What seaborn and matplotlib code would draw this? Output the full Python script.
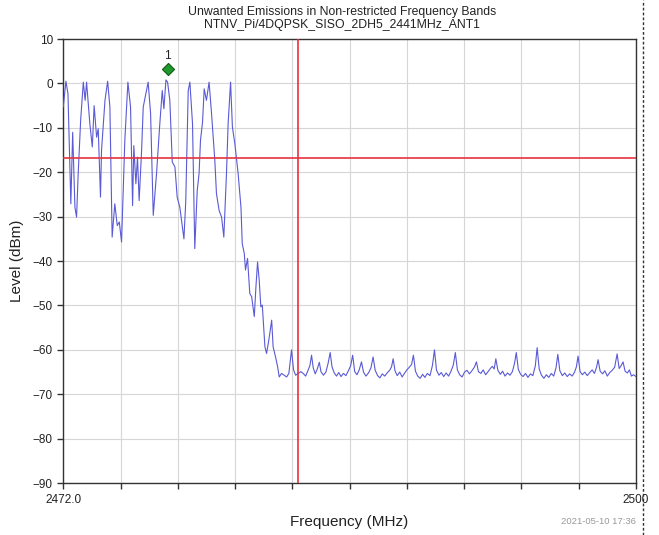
import numpy as np
import matplotlib
matplotlib.use("Agg")
import matplotlib.pyplot as plt
import seaborn as sns
from matplotlib.lines import Line2D

freq_mhz = [
    2472.00, 2472.13, 2472.23, 2472.37, 2472.46, 2472.57, 2472.65, 2472.73, 2472.85, 2472.98,
    2473.07, 2473.14, 2473.30, 2473.42, 2473.51, 2473.63, 2473.71, 2473.82, 2473.87, 2474.04,
    2474.17, 2474.28, 2474.39, 2474.52, 2474.64, 2474.74, 2474.85, 2475.01, 2475.16, 2475.29,
    2475.39, 2475.45, 2475.55, 2475.63, 2475.71, 2475.83, 2475.91, 2476.15, 2476.27, 2476.40,
    2476.56, 2476.72, 2476.84, 2476.92, 2477.02, 2477.10, 2477.21, 2477.33, 2477.46, 2477.57,
    2477.70, 2477.90, 2477.99, 2478.11, 2478.19, 2478.32, 2478.43, 2478.55, 2478.64, 2478.71,
    2478.81, 2478.89, 2479.00, 2479.13, 2479.25, 2479.41, 2479.49, 2479.62, 2479.74, 2479.85,
    2479.98, 2480.06, 2480.18, 2480.27, 2480.39, 2480.55, 2480.69, 2480.75, 2480.85, 2480.91,
    2481.01, 2481.12, 2481.21, 2481.34, 2481.42, 2481.50, 2481.58, 2481.66, 2481.73, 2481.86,
    2481.94, 2482.05, 2482.19, 2482.26, 2482.38, 2482.48, 2482.56, 2482.67, 2482.80, 2482.92,
    2483.03, 2483.16, 2483.26, 2483.36, 2483.49, 2483.62, 2483.73, 2483.85, 2483.97, 2484.06,
    2484.14, 2484.22, 2484.32, 2484.42, 2484.52, 2484.60, 2484.72, 2484.84, 2484.95, 2485.05,
    2485.14, 2485.25, 2485.36, 2485.47, 2485.58, 2485.70, 2485.82, 2485.94, 2486.05, 2486.15,
    2486.25, 2486.36, 2486.47, 2486.58, 2486.68, 2486.80, 2486.92, 2487.04, 2487.15, 2487.25,
    2487.37, 2487.48, 2487.60, 2487.72, 2487.85, 2487.96, 2488.05, 2488.13, 2488.22, 2488.33,
    2488.45, 2488.57, 2488.68, 2488.80, 2488.92, 2489.03, 2489.12, 2489.22, 2489.33, 2489.45,
    2489.57, 2489.68, 2489.80, 2489.93, 2490.05, 2490.15, 2490.25, 2490.37, 2490.48, 2490.60,
    2490.72, 2490.84, 2490.96, 2491.07, 2491.17, 2491.27, 2491.38, 2491.50, 2491.62, 2491.74,
    2491.86, 2491.98, 2492.10, 2492.20, 2492.30, 2492.42, 2492.53, 2492.65, 2492.77, 2492.88,
    2492.98, 2493.07, 2493.15, 2493.25, 2493.37, 2493.48, 2493.60, 2493.72, 2493.84, 2493.96,
    2494.06, 2494.15, 2494.25, 2494.36, 2494.48, 2494.60, 2494.72, 2494.84, 2494.96, 2495.08,
    2495.17, 2495.27, 2495.38, 2495.50, 2495.62, 2495.74, 2495.86, 2495.98, 2496.09, 2496.18,
    2496.28, 2496.40, 2496.52, 2496.64, 2496.76, 2496.88, 2497.00, 2497.09, 2497.17, 2497.27,
    2497.38, 2497.50, 2497.62, 2497.74, 2497.86, 2497.97, 2498.07, 2498.15, 2498.25, 2498.37,
    2498.48, 2498.60, 2498.72, 2498.84, 2498.96, 2499.08, 2499.18, 2499.27, 2499.37, 2499.47,
    2499.58, 2499.68, 2499.78, 2499.88, 2500.00,
]
level_dbm = [
    -5.3, 0.5, -2.3, -27.1, -11.0, -27.9, -30.1, -20.3, -8.3, 0.3,
    -3.8, 0.3, -9.1, -14.3, -5.0, -12.1, -10.2, -25.6, -15.1, -3.8,
    0.5, -5.3, -34.6, -27.1, -32.0, -31.2, -35.7, -12.8, 0.3, -5.3,
    -27.5, -14.0, -22.6, -16.6, -26.4, -15.1, -5.3, 0.3, -6.8, -29.7,
    -20.3, -9.1, -1.6, -5.7, 0.8, 0.3, -3.8, -17.7, -18.8, -25.6,
    -27.9, -35.0, -26.4, -1.6, 0.3, -9.1, -37.2, -24.1, -20.3, -12.8,
    -8.7, -1.2, -3.8, 0.3, -6.8, -17.3, -24.8, -28.6, -30.1, -34.6,
    -20.3, -9.1, 0.3, -9.8, -13.6, -20.3, -28.0, -36.0, -38.3, -42.0,
    -39.4, -47.3, -48.0, -52.5, -45.8, -40.2, -44.3, -50.3, -49.9, -59.3,
    -60.8, -57.8, -53.3, -59.3, -61.6, -63.8, -66.1, -65.3, -65.7, -66.1,
    -65.3, -60.0, -64.5, -65.7, -65.3, -64.9, -65.3, -65.9, -64.6, -63.5,
    -61.2, -64.0, -65.4, -64.3, -62.8, -64.9, -65.7, -65.0, -63.0, -60.6,
    -63.8, -65.2, -65.9, -65.1, -66.0, -65.3, -65.8, -64.7, -63.6, -61.2,
    -64.9, -65.6, -64.5, -62.7, -65.0, -65.9, -65.2, -64.1, -61.6, -64.6,
    -65.8, -66.3, -65.4, -65.9, -65.1, -64.6, -63.8, -62.0, -64.7, -65.8,
    -65.0, -66.1, -65.3, -64.5, -63.9, -63.3, -61.2, -64.8, -65.9, -66.4,
    -65.5, -66.2, -65.3, -65.8, -63.5, -60.0, -64.6, -65.7, -65.1, -66.0,
    -65.2, -65.9, -64.8, -63.4, -60.6, -64.5, -65.6, -66.1, -65.0, -64.6,
    -65.4, -64.7, -63.9, -62.7, -64.9, -65.3, -64.5, -65.6, -64.9, -64.2,
    -63.7, -64.3, -62.0, -64.6, -65.5, -64.8, -65.9, -65.2, -65.7, -64.9,
    -63.1, -60.6, -64.4, -65.5, -66.0, -65.3, -66.2, -65.4, -65.8, -63.6,
    -59.5, -64.3, -65.7, -66.4, -65.6, -66.2, -65.3, -65.9, -64.1, -61.0,
    -64.7, -65.8, -65.2, -66.0, -65.4, -65.9, -65.0, -63.8, -61.4, -64.9,
    -65.6, -65.0, -65.8, -65.1, -64.5, -65.3, -64.0, -62.2, -64.8, -65.4,
    -64.7, -65.9, -65.1, -64.6, -63.9, -60.9, -64.2, -63.6, -62.7, -64.8,
    -65.2, -64.5, -65.9, -65.6, -66.0,
]

# Marqueur 1 et lignes de référence
marker_freq = [2477.1]
marker_level = [3.2]
limite_dbm = -16.8
bord_bande_mhz = 2483.5

x_ticks = np.linspace(2472.0, 2500.0, 11)
x_tick_labels = ["2472.0"] + [""] * 9 + ["2500"]
y_ticks = list(range(-90, 11, 10))

sns.set_style("white")
plt.rcParams["font.family"] = ["Liberation Sans", "DejaVu Sans"]

fig = plt.figure(figsize=(6.59, 5.35), dpi=100)
ax = fig.add_axes([0.096, 0.097, 0.869, 0.830])

sns.lineplot(x=freq_mhz, y=level_dbm, ax=ax, color="#5a5ad6", linewidth=0.8,
             estimator=None, sort=False, zorder=3)
ax.axhline(limite_dbm, color="#e8323f", linewidth=1.2, zorder=4)
ax.axvline(bord_bande_mhz, color="#e8323f", linewidth=1.2, zorder=4)
sns.scatterplot(x=marker_freq, y=marker_level, ax=ax, marker="D", s=38,
                color="#1f9a2a", edgecolor="#145a1a", linewidth=0.8, zorder=5)
ax.annotate("1", (marker_freq[0], marker_level[0]), xytext=(0, 5),
            textcoords="offset points", ha="center", va="bottom", fontsize=8.5, color="#222222")

ax.set_xlim(2472.0, 2500.0)
ax.set_ylim(-90, 10)
ax.set_xticks(x_ticks)
ax.set_xticklabels(x_tick_labels)
ax.set_yticks(y_ticks)
ax.grid(True, color="#d6d6d6", linewidth=0.8)
ax.tick_params(axis="both", direction="out", length=4, width=1, color="#333333",
               labelsize=8.5, labelcolor="#222222", bottom=True, left=True)
for sp in ax.spines.values():
    sp.set_color("#333333")
    sp.set_linewidth(1.0)

ax.set_xlabel("Frequency (MHz)", fontsize=11, color="#222222", labelpad=7)
ax.set_ylabel("Level (dBm)", fontsize=11, color="#222222", labelpad=6)

fig.text(0.519, 0.988, "Unwanted Emissions in Non-restricted Frequency Bands\n"
         "NTNV_Pi/4DQPSK_SISO_2DH5_2441MHz_ANT1",
         ha="center", va="top", fontsize=8.8, color="#222222", linespacing=1.1)
fig.text(0.965, 0.016, "2021-05-10 17:36", ha="right", va="bottom", fontsize=6.8, color="#999999")

# cadre pointillé du document à droite
fig.add_artist(Line2D([643 / 659, 643 / 659], [0.0, 1.0], transform=fig.transFigure,
                      color="#333333", linewidth=1.0, linestyle=(0, (2, 1.5))))

fig.savefig("out.png", dpi=100)
